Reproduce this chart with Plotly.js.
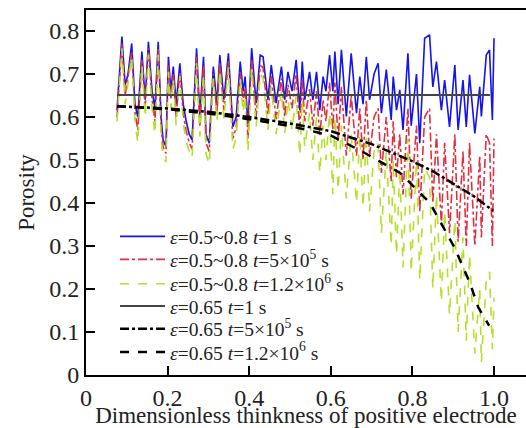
<!DOCTYPE html>
<html>
<head>
<meta charset="utf-8">
<script src="https://cdn.plot.ly/plotly-3.0.1.min.js"></script>
<style>html,body{margin:0;padding:0;background:#fff;}#chart{width:526px;height:428px;}</style>
</head>
<body>
<div id="chart"></div>
<script>
// Dimensionless thickness positions (shared by the fluctuating series)
const xs = [0.076,0.088,0.096,0.103,0.112,0.120,0.127,0.137,0.145,0.153,
  0.162,0.169,0.177,0.184,0.189,0.196,0.202,0.208,0.214,0.221,
  0.230,0.238,0.245,0.253,0.260,0.271,0.279,0.288,0.294,0.302,
  0.312,0.321,0.328,0.338,0.349,0.360,0.368,0.378,0.385,0.390,
  0.397,0.406,0.417,0.427,
  0.434,0.446,0.454,0.466,0.479,0.487,0.495,0.505,0.515,0.524,
  0.530,0.536,0.548,0.556,0.565,0.573,0.581,0.588,0.597,0.605,
  0.610,0.618,0.626,0.638,0.650,0.663,0.671,0.679,0.687,0.695,
  0.706,0.716,0.724,0.736,0.748,0.753,0.761,0.769,0.777,0.789,
  0.797,0.810,0.818,0.830,0.842,0.850,0.859,0.871,0.879,0.891,
  0.904,0.912,0.924,0.932,0.940,0.953,0.965,0.969,0.981,0.989,
  0.996,1.000];

// eps = 0.5~0.8, t = 1 s
const blueT1 = [0.616,0.787,0.674,0.700,0.771,0.630,0.600,0.752,0.640,0.775,
  0.660,0.620,0.775,0.600,0.547,0.531,0.740,0.660,0.717,0.630,
  0.725,0.632,0.593,0.560,0.547,0.760,0.601,0.740,0.560,0.539,
  0.717,0.632,0.744,0.640,0.748,0.577,0.600,0.729,0.660,0.694,
  0.577,0.760,0.632,0.744,
  0.740,0.640,0.721,0.632,0.717,0.640,0.705,0.660,0.733,0.616,
  0.729,0.640,0.705,0.640,0.705,0.616,0.694,0.660,0.744,0.660,
  0.752,0.630,0.756,0.601,0.748,0.609,0.694,0.630,0.740,0.640,
  0.700,0.725,0.609,0.710,0.593,0.694,0.616,0.663,0.570,0.748,
  0.580,0.700,0.539,0.783,0.791,0.670,0.729,0.616,0.686,0.577,
  0.721,0.570,0.686,0.577,0.698,0.562,0.670,0.601,0.744,0.756,
  0.593,0.783];

// eps = 0.5~0.8, t = 5e5 s
const redT5e5 = [0.600,0.770,0.650,0.690,0.750,0.610,0.570,0.735,0.620,0.760,
  0.640,0.590,0.760,0.580,0.530,0.515,0.720,0.640,0.700,0.600,
  0.705,0.610,0.570,0.540,0.525,0.740,0.580,0.720,0.540,0.520,
  0.700,0.610,0.725,0.615,0.730,0.550,0.575,0.705,0.635,0.670,
  0.550,0.735,0.600,0.720,
  0.715,0.605,0.695,0.595,0.690,0.600,0.675,0.620,0.700,0.570,
  0.690,0.590,0.665,0.580,0.660,0.555,0.640,0.590,0.680,0.570,
  0.680,0.545,0.670,0.510,0.650,0.510,0.620,0.500,0.640,0.510,
  0.600,0.620,0.470,0.600,0.450,0.590,0.460,0.560,0.420,0.620,
  0.410,0.580,0.380,0.600,0.620,0.400,0.560,0.350,0.540,0.330,
  0.560,0.310,0.520,0.300,0.540,0.300,0.510,0.320,0.560,0.540,
  0.300,0.550];

// eps = 0.5~0.8, t = 1.2e6 s
const greenT12e6 = [0.590,0.760,0.630,0.680,0.740,0.590,0.540,0.720,0.600,0.745,
  0.620,0.560,0.745,0.550,0.510,0.495,0.705,0.620,0.690,0.580,
  0.695,0.590,0.545,0.520,0.505,0.725,0.555,0.700,0.515,0.490,
  0.690,0.590,0.710,0.595,0.715,0.525,0.550,0.690,0.610,0.650,
  0.520,0.715,0.575,0.700,
  0.690,0.570,0.670,0.560,0.660,0.560,0.640,0.570,0.650,0.510,
  0.640,0.530,0.610,0.500,0.600,0.470,0.580,0.500,0.610,0.420,
  0.600,0.430,0.580,0.410,0.560,0.400,0.560,0.390,0.560,0.380,
  0.520,0.540,0.330,0.520,0.300,0.500,0.280,0.480,0.250,0.550,
  0.240,0.500,0.220,0.480,0.460,0.200,0.420,0.170,0.380,0.140,
  0.360,0.100,0.320,0.080,0.280,0.050,0.200,0.030,0.220,0.240,
  0.060,0.180];

// eps = 0.65 (uniform) series
const xsUniform = [0.076,0.2,0.3,0.4,0.5,0.6,0.7,0.8,0.85,0.9,0.95,0.99];
const uniT1     = [0.651,0.651,0.651,0.651,0.651,0.651,0.651,0.651,0.651,0.651,0.651,0.651];
const xsU5e5    = [0.076,0.2,0.3,0.4,0.5,0.6,0.7,0.8,0.85,0.9,0.95,0.998];
const uniT5e5   = [0.625,0.620,0.612,0.600,0.585,0.567,0.537,0.497,0.474,0.446,0.416,0.382];
const xsU12e6   = [0.076,0.2,0.3,0.4,0.5,0.6,0.68,0.77,0.843,0.904,0.941,0.961,0.988];
const uniT12e6  = [0.625,0.618,0.608,0.595,0.579,0.557,0.518,0.470,0.400,0.295,0.214,0.158,0.115];

const legendNames = [
  '<i>ε</i>=0.5~0.8 <i>t</i>=1 s',
  '<i>ε</i>=0.5~0.8 <i>t</i>=5×10<sup>5</sup> s',
  '<i>ε</i>=0.5~0.8 <i>t</i>=1.2×10<sup>6</sup> s',
  '<i>ε</i>=0.65 <i>t</i>=1 s',
  '<i>ε</i>=0.65 <i>t</i>=5×10<sup>5</sup> s',
  '<i>ε</i>=0.65 <i>t</i>=1.2×10<sup>6</sup> s'
];
const xTickVals = [0,0.2,0.4,0.6,0.8,1.0];
const xTickText = ['0','0.2','0.4','0.6','0.8','1.0'];

const serif = 'Liberation Serif';
const legendIds = ['legend','legend2','legend3','legend4','legend5','legend6'];
const legendRowY = [0.379, 0.316, 0.249, 0.188, 0.126, 0.062];

const traces = [
  {x: xs, y: blueT1, mode:'lines', name: legendNames[0], legend: legendIds[0], line:{color:'#1414f0', width:1.6}},
  {x: xs, y: redT5e5, mode:'lines', name: legendNames[1], legend: legendIds[1], line:{color:'#e03040', width:1.6, dash:'dashdot'}},
  {x: xs, y: greenT12e6, mode:'lines', name: legendNames[2], legend: legendIds[2], line:{color:'#b4e02a', width:1.6, dash:'dash'}},
  {x: xsUniform, y: uniT1, mode:'lines', name: legendNames[3], legend: legendIds[3], line:{color:'#444444', width:2}},
  {x: xsU5e5, y: uniT5e5, mode:'lines', name: legendNames[4], legend: legendIds[4], line:{color:'#000000', width:2.5, dash:'dashdot'}},
  {x: xsU12e6, y: uniT12e6, mode:'lines', name: legendNames[5], legend: legendIds[5], line:{color:'#000000', width:2.5, dash:'dash'}}
];

const layout = {
  width: 526, height: 428,
  margin: {l: 86, r: 0, t: 10, b: 53},
  paper_bgcolor: '#ffffff', plot_bgcolor: '#ffffff',
  font: {family: serif, color: '#222222', size: 20},
  showlegend: true,
  xaxis: {
    range: [0, 1.0784], showgrid: false, zeroline: false,
    showline: true, linecolor: '#000', linewidth: 2, mirror: true,
    ticks: 'inside', ticklen: 9, tickwidth: 2, tickcolor: '#000',
    tickvals: xTickVals, ticktext: xTickText,
    tickfont: {family: serif, size: 24, color: '#222222'},
    title: {text: 'Dimensionless thinkness of positive electrode', font: {family: serif, size: 23, color: '#222222'}, standoff: 4}
  },
  yaxis: {
    range: [0, 0.8488], showgrid: false, zeroline: false,
    showline: true, linecolor: '#000', linewidth: 2,
    ticks: 'inside', ticklen: 9, tickwidth: 2, tickcolor: '#000',
    dtick: 0.1, tick0: 0,
    tickfont: {family: serif, size: 24, color: '#222222'},
    title: {text: 'Porosity', font: {family: serif, size: 23, color: '#222222'}, standoff: 8}
  }
};
legendIds.forEach((id, i) => {
  layout[id] = {x: 0.066, y: legendRowY[i], xanchor: 'left', yanchor: 'middle',
    itemwidth: 45, bgcolor: 'rgba(255,255,255,0)',
    font: {family: serif, size: 19.5, color: '#222222'}};
});

Plotly.newPlot('chart', traces, layout, {displayModeBar: false});
</script>
</body>
</html>
